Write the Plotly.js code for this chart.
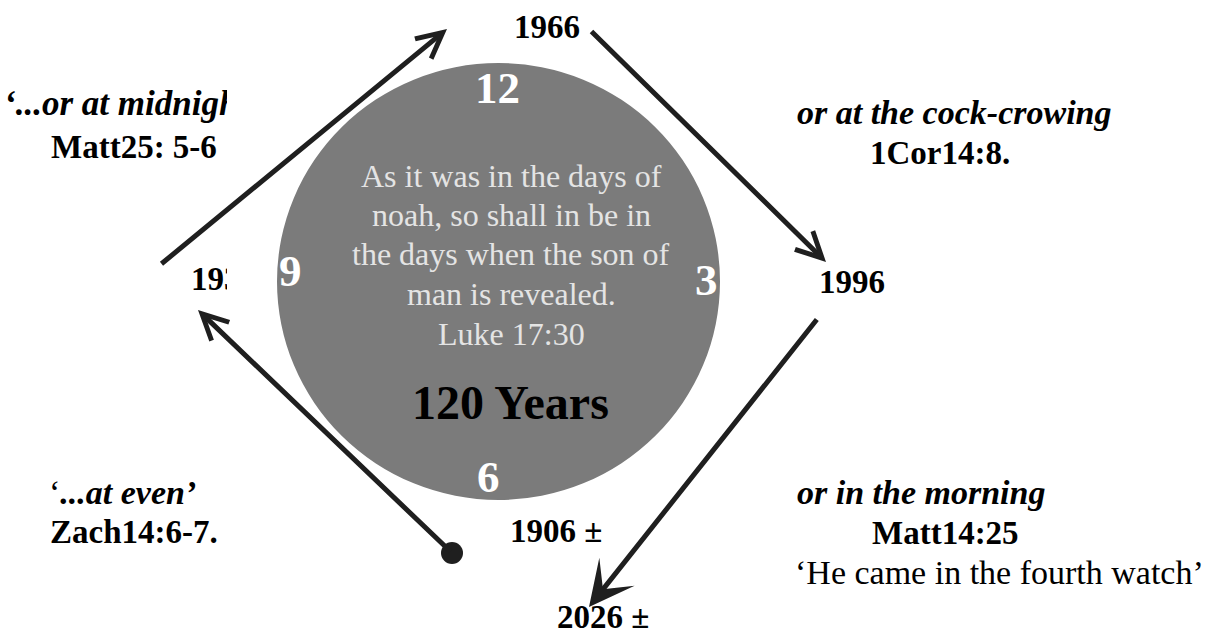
<!DOCTYPE html>
<html>
<head>
<meta charset="utf-8">
<script src="https://cdn.plot.ly/plotly-3.0.1.min.js"></script>
<style>html,body{margin:0;padding:0;background:#fff;}#chart{width:1215px;height:636px;}</style>
</head>
<body>
<div id="chart"></div>
<script>
// ---- content ----
const years = ['1906 ±', '1936', '1966', '1996', '2026 ±'];
const watches = ['‘...at even’', '‘...or at midnight', 'or at the cock-crowing', 'or in the morning'];
const refs = ['Zach14:6-7.', 'Matt25: 5-6', '1Cor14:8.', 'Matt14:25'];
const clockNumbers = ['12', '3', '6', '9'];
const verseLines = ['As it was in the days of', 'noah, so shall in be in', 'the days when the son of', 'man is revealed.', 'Luke 17:30'];
const centreTitle = '120 Years';
const note = '‘He came in the fourth watch’';

// ---- layout helpers ----
const SERIF = '"Liberation Serif", "Times New Roman", serif';
const INK = '#1f1f1f';
function txt(text, x, y, size, opts) {
  opts = opts || {};
  return {
    text: text, x: x, y: y, xref: 'x', yref: 'y', showarrow: false,
    xanchor: opts.xanchor || 'center', yanchor: 'middle',
    font: {family: SERIF, size: size, color: opts.color || '#000',
           weight: opts.weight || 'normal', style: opts.style || 'normal'}
  };
}
function arrow(tail, head, style, size) {
  return {
    x: head[0], y: head[1], ax: tail[0], ay: tail[1],
    xref: 'x', yref: 'y', axref: 'x', ayref: 'y',
    text: '', showarrow: true, arrowhead: style, arrowsize: size,
    arrowwidth: 5, arrowcolor: INK
  };
}

const verseY = [176, 215, 254, 294, 334];

const annotations = [
  // years
  txt(years[2], 547, 27, 33, {weight: 'bold'}),
  txt(years[3], 852, 282, 33, {weight: 'bold'}),
  txt(years[0], 556, 531, 33, {weight: 'bold'}),
  txt(years[4], 603, 617, 33, {weight: 'bold'}),
  // watches & refs
  txt(watches[2], 954, 112, 34, {weight: 'bold', style: 'italic'}),
  txt(refs[2], 940, 153, 33, {weight: 'bold'}),
  txt(refs[1], 134, 147, 33, {weight: 'bold'}),
  txt('‘<b><i>' + watches[0].slice(1) + '</i></b>', 122, 492, 34),
  txt(refs[0], 134, 532, 33, {weight: 'bold'}),
  txt(watches[3], 921, 492, 34, {weight: 'bold', style: 'italic'}),
  txt(refs[3], 945, 533, 33, {weight: 'bold'}),
  txt(note, 999, 572, 34),
  // clock face
  txt(clockNumbers[0], 497, 88, 45, {weight: 'bold', color: '#fff'}),
  txt(clockNumbers[1], 706, 280, 45, {weight: 'bold', color: '#fff'}),
  txt(clockNumbers[2], 488, 477, 45, {weight: 'bold', color: '#fff'}),
  txt(clockNumbers[3], 290, 271, 45, {weight: 'bold', color: '#fff'}),
  txt(centreTitle, 510, 402, 48, {weight: 'bold'}),
  // arrows
  arrow([160, 265], [447, 29], 5, 1.0),
  arrow([590, 30], [826, 262], 5, 1.0),
  arrow([818, 318], [589, 607], 3, 1.5),
  arrow([452, 553], [198, 310], 5, 1.0)
];
verseLines.forEach(function (line, i) {
  annotations.push(txt(line, 511, verseY[i], 32, {color: '#e4e4e4'}));
});

const shapes = [
  {type: 'rect', layer: 'above', xref: 'x', yref: 'y', x0: 227, x1: 769, y0: 45, y1: 508,
   fillcolor: '#ffffff', line: {width: 0}},
  {type: 'circle', layer: 'above', xref: 'x', yref: 'y', x0: 277, x1: 720, y0: 63, y1: 500,
   fillcolor: '#7b7b7b', line: {width: 0}}
];

const traces = [
  {type: 'scatter', mode: 'text', x: [4, 191], y: [106, 282],
   text: [watches[1], years[1]], textposition: ['middle right', 'middle right'],
   textfont: {family: SERIF, size: [35, 33], color: '#000', weight: 'bold',
              style: ['italic', 'normal']},
   hoverinfo: 'skip', showlegend: false, cliponaxis: false},
  {type: 'scatter', mode: 'markers', x: [452], y: [553],
   marker: {size: 22, color: INK}, hoverinfo: 'skip', showlegend: false}
];

const layout = {
  width: 1215, height: 636,
  margin: {l: 0, r: 0, t: 0, b: 0},
  paper_bgcolor: '#ffffff', plot_bgcolor: '#ffffff',
  xaxis: {range: [0, 1215], visible: false, fixedrange: true},
  yaxis: {range: [636, 0], visible: false, fixedrange: true},
  shapes: shapes, annotations: annotations, showlegend: false
};

Plotly.newPlot('chart', traces, layout, {staticPlot: true, displayModeBar: false});
</script>
</body>
</html>
